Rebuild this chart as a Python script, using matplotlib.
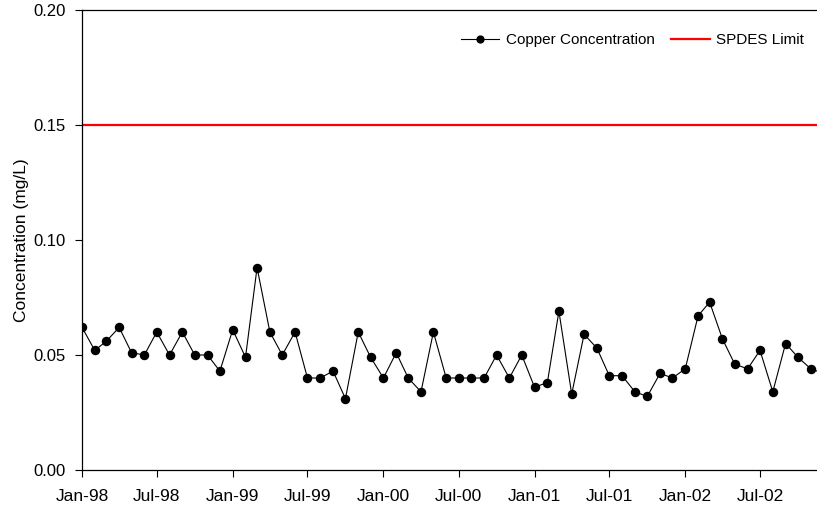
import matplotlib
matplotlib.use("Agg")
import matplotlib.pyplot as plt
import matplotlib.dates as mdates
import numpy as np
import pandas as pd

plt.rcParams['font.family'] = ['Liberation Sans', 'DejaVu Sans']

start_month = "1998-01-01"
copper = [0.062, 0.052, 0.056, 0.062, 0.051, 0.050, 0.060, 0.050, 0.060, 0.050, 0.050, 0.043,
          0.061, 0.049, 0.088, 0.060, 0.050, 0.060, 0.040, 0.040, 0.043, 0.031, 0.060, 0.049,
          0.040, 0.051, 0.040, 0.034, 0.060, 0.040, 0.040, 0.040, 0.040, 0.050, 0.040, 0.050,
          0.036, 0.038, 0.069, 0.033, 0.059, 0.053, 0.041, 0.041, 0.034, 0.032, 0.042, 0.040,
          0.044, 0.067, 0.073, 0.057, 0.046, 0.044, 0.052, 0.034, 0.055, 0.049, 0.044, 0.042]
dates = pd.date_range(start_month, periods=len(copper), freq="MS")
spdes_limit = 0.15
yticks = [0.00, 0.05, 0.10, 0.15, 0.20]

W, H = 817, 514
fig = plt.figure(figsize=(W / 100, H / 100), dpi=100)
px_per_day = 678 / 1642
x_end = pd.Timestamp("2002-12-20")
ndays = (x_end - pd.Timestamp("1998-01-01")).days
ax = fig.add_axes([82 / W, 44 / H, ndays * px_per_day / W, 460 / H])

ax.plot(dates, copper, color="black", linewidth=0.8, marker="o", markersize=5.8,
        label="Copper Concentration")
ax.axhline(spdes_limit, color="#ff0000", linewidth=1.6, label="SPDES Limit")

ax.set_xlim(pd.Timestamp("1998-01-01"), x_end)
ax.set_ylim(0, 0.20)
ax.set_yticks(yticks)
ax.yaxis.set_major_formatter(matplotlib.ticker.FormatStrFormatter('%.2f'))
ax.xaxis.set_major_locator(mdates.MonthLocator(bymonth=[1, 7]))
ax.xaxis.set_major_formatter(mdates.DateFormatter('%b-%y'))
ax.tick_params(axis='both', direction='out', length=5, width=0.8, colors='black')
ax.tick_params(axis='x', labelsize=12.5, pad=9)
ax.tick_params(axis='y', labelsize=12, pad=7)
for s in ax.spines.values():
    s.set_linewidth(0.9)
ax.set_ylabel("Concentration (mg/L)", fontsize=12.5, labelpad=3)

handles, labels = ax.get_legend_handles_labels()
fig.legend(handles, labels, loc="center right", bbox_to_anchor=(818 / W, 1 - 40 / H),
           ncol=2, frameon=False, fontsize=11, handlelength=2.5, handletextpad=0.45,
           columnspacing=1.1, markerscale=0.85)

fig.savefig("out.png", dpi=100)
